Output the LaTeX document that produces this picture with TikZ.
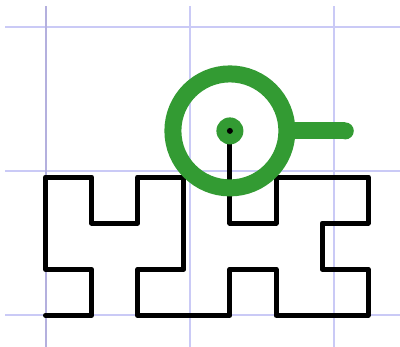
\documentclass[tikz,border=0pt]{standalone}
\definecolor{gridc}{RGB}{202,202,246}
\definecolor{axisc}{RGB}{180,176,222}
\definecolor{ringc}{RGB}{51,155,51}
\begin{document}
\begin{tikzpicture}[x=1bp,y=-1bp,
  gridline/.style={draw=gridc,line width=1.2bp},
  pathline/.style={draw=black,line width=5bp,line join=round,line cap=round},
  ringline/.style={draw=ringc,line width=17bp},
  stickline/.style={draw=ringc,line width=17bp}]
\useasboundingbox (0,0) rectangle (400,347);
% grid
\draw[gridline] (5,27) -- (400,27);
\draw[gridline] (5,171) -- (400,171);
\draw[gridline] (5,315) -- (400,315);
\draw[gridline,draw=axisc] (46,6) -- (46,347);
\draw[gridline] (190,6) -- (190,347);
\draw[gridline] (334,6) -- (334,347);
% lattice coordinates
\foreach \i/\xv in {0/45.5,1/91.6,2/137.7,3/183.8,4/229.9,5/276.0,6/322.1,7/368.2}{
  \foreach \j/\yv in {0/315.3,1/269.2,2/223.1,3/177.0,4/130.9}{
    \coordinate (p\i\j) at (\xv,\yv);
  }
}
\draw[pathline] (p00) -- (p10) -- (p11) -- (p01) -- (p03) -- (p13) -- (p12) -- (p22)
  -- (p23) -- (p33) -- (p31) -- (p21) -- (p20) -- (p40) -- (p41) -- (p51) -- (p50)
  -- (p70) -- (p71) -- (p61) -- (p62) -- (p72) -- (p73) -- (p53) -- (p52) -- (p42) -- (p44);
% green marker
\coordinate (c) at (p44);
\coordinate (stickend) at (345.3,130.9);
\draw[stickline] ([xshift=57bp]c) -- (stickend);
\fill[ringc] (stickend) circle[radius=8.5bp];
\draw[ringline] (c) circle[radius=57bp];
\fill[ringc] (c) circle[radius=13.5bp];
\fill[black] (c) circle[radius=3bp];
\end{tikzpicture}
\end{document}
